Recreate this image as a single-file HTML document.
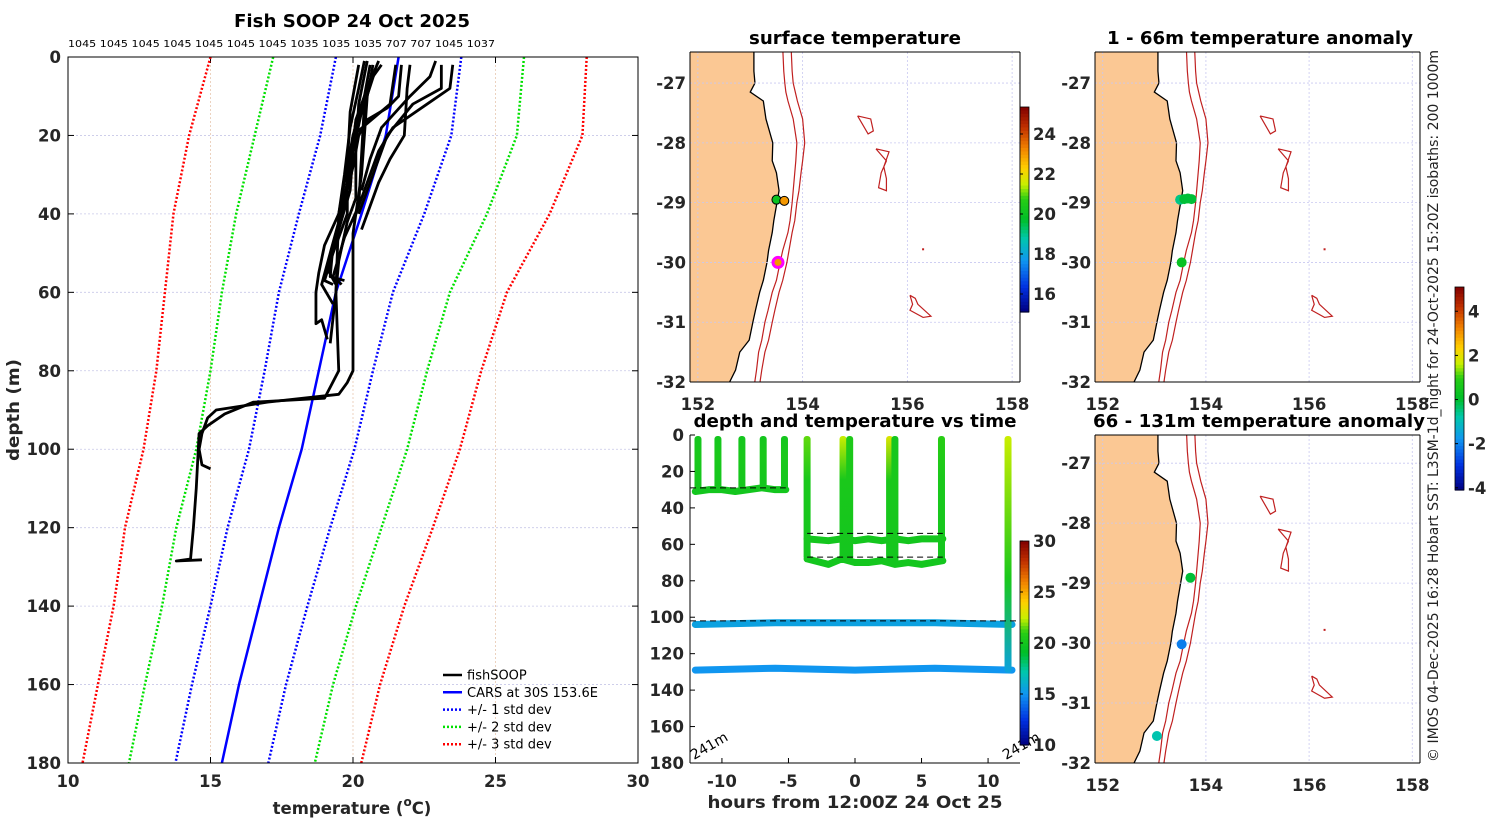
<!DOCTYPE html>
<html><head><meta charset="utf-8">
<style>
html,body{margin:0;padding:0;background:#fff;}
svg{display:block;font-family:"DejaVu Sans","Liberation Sans",sans-serif;}
.tk{font-size:16.5px;font-weight:bold;fill:#262626;}
.ttl{font-size:18px;font-weight:bold;fill:#000;}
</style></head>
<body>
<svg id="fig" width="1500" height="820" viewBox="0 0 1500 820">
<g id="gProfile"></g>
<g id="gSurf"></g>
<g id="gAnom1"></g>
<g id="gAnom2"></g>
<g id="gTime"></g>
<text x="352" y="27" text-anchor="middle" class="ttl" textLength="236" lengthAdjust="spacingAndGlyphs">Fish SOOP 24 Oct 2025</text>
<text x="68" y="47" font-size="10" textLength="427" lengthAdjust="spacingAndGlyphs">1045 1045 1045 1045 1045 1045 1045 1035 1035 1035 707 707 1045 1037</text>
<text transform="translate(19,410) rotate(-90)" text-anchor="middle" class="tk" font-size="18" textLength="102" lengthAdjust="spacingAndGlyphs">depth (m)</text>
<text x="352" y="814" text-anchor="middle" class="tk" font-size="19">temperature (<tspan font-size="12" dy="-8">o</tspan><tspan dy="8">C)</tspan></text>
<text x="855" y="44" text-anchor="middle" class="ttl" textLength="212" lengthAdjust="spacingAndGlyphs">surface temperature</text>
<text x="1260" y="44" text-anchor="middle" class="ttl" textLength="306" lengthAdjust="spacingAndGlyphs">1 - 66m temperature anomaly</text>
<text x="855" y="427" text-anchor="middle" class="ttl" textLength="323" lengthAdjust="spacingAndGlyphs">depth and temperature vs time</text>
<text x="1259" y="427" text-anchor="middle" class="ttl" textLength="332" lengthAdjust="spacingAndGlyphs">66 - 131m temperature anomaly</text>
<text x="855" y="808" text-anchor="middle" class="tk" font-size="18" textLength="295" lengthAdjust="spacingAndGlyphs">hours from 12:00Z 24 Oct 25</text>
<text transform="translate(1438,762) rotate(-90)" font-size="14" textLength="712" lengthAdjust="spacingAndGlyphs" fill="#222">© IMOS 04-Dec-2025 16:28 Hobart SST: L3SM-1d_night for 24-Oct-2025 15:20Z isobaths: 200  1000m</text>
</svg>
<script>
// ---------- data ----------
const cDepths=[0,20,40,60,80,100,120,140,160,180];
const carsMean=[21.6,21.15,20.3,19.4,18.8,18.2,17.4,16.7,16.0,15.4];
const carsSd=[2.2,2.3,2.2,2.0,1.9,1.85,1.8,1.7,1.65,1.63];
const tempTicks=[10,15,20,25,30];
const depthTicks=[0,20,40,60,80,100,120,140,160,180];
const fishProfiles=[
 [[20.4,1],[20.2,8],[19.9,18],[19.7,30],[19.5,40],[19.0,48],[18.8,55],[18.7,60],[18.7,68],[18.9,67],[19.1,72]],
 [[20.6,2],[20.4,10],[20.0,20],[19.8,32],[19.5,42],[19.2,50],[18.9,58],[19.3,63]],
 [[20.9,1],[20.5,8],[20.1,16],[19.9,28],[19.7,38],[19.3,48],[19.2,56],[19.7,57]],
 [[21.0,2],[20.6,6],[20.3,14],[20.0,24],[19.9,34],[19.5,44],[19.1,54],[19.4,58]],
 [[20.5,1],[20.2,12],[20.1,24],[20.1,36],[19.8,42],[19.5,52],[19.4,60],[19.2,73]],
 [[20.8,3],[20.4,12],[20.3,25],[20.2,38],[19.7,46],[19.3,56],[19.6,58]],
 [[20.2,2],[19.9,14],[19.8,28],[19.8,40],[19.3,50],[19.0,57],[19.3,58]],
 [[23.5,2],[23.4,8],[22.6,12],[21.4,18],[20.9,24],[20.5,32],[20.2,38],[20.0,42]],
 [[23.1,2],[23.1,8],[22.1,12],[21.2,20],[20.8,28],[20.4,36],[20.2,40]],
 [[22.9,1],[22.7,5],[22.0,10],[21.0,18],[20.6,26],[20.3,34]],
 [[22.0,2],[21.9,8],[21.8,20],[21.3,26],[20.9,32],[20.5,40],[20.3,44]],
 [[21.7,2],[21.6,10],[21.2,13],[20.5,16],[20.2,20],[20.0,28],[19.8,34]],
 [[20.7,2],[20.5,10],[20.3,30],[20.1,40],[20.0,45],[20.0,80],[19.8,83],[19.5,86],[17,88],[15.2,90],[14.9,92],[14.7,96],[14.6,100],[14.7,104],[15.0,105]],
 [[21.5,2],[21.3,12],[20.0,20],[19.5,40],[19.4,60],[19.5,80],[19.0,87],[16.5,88],[15.5,91],[14.9,94],[14.6,96],[14.5,110],[14.4,120],[14.3,128],[13.8,128.5],[14.7,128.2]]
];
// maps
const lonTicks=[152,154,156,158];
const latTicks=[-27,-28,-29,-30,-31,-32];
const coastLat=[-26.4,-26.8,-27,-27.15,-27.3,-27.6,-28,-28.3,-28.5,-28.8,-29,-29.3,-29.5,-29.8,-30,-30.3,-30.5,-30.8,-31,-31.3,-31.5,-31.8,-32.1];
const coastLon=[153.07,153.07,153.09,153.0,153.25,153.3,153.43,153.42,153.5,153.55,153.51,153.45,153.42,153.35,153.32,153.25,153.18,153.1,153.05,152.98,152.8,152.72,152.55];
const iso200Lon=[153.62,153.64,153.66,153.68,153.72,153.82,153.89,153.87,153.85,153.82,153.8,153.76,153.72,153.62,153.57,153.5,153.42,153.34,153.28,153.22,153.16,153.12,153.07];
const iso1000Lon=[153.78,153.8,153.82,153.86,153.9,154.0,154.04,154.0,153.97,153.93,153.89,153.85,153.8,153.74,153.7,153.62,153.55,153.47,153.42,153.35,153.28,153.22,153.17];
const seamounts=[
 [[155.05,-27.55],[155.3,-27.6],[155.35,-27.8],[155.25,-27.85],[155.05,-27.55]],
 [[155.4,-28.1],[155.65,-28.15],[155.55,-28.4],[155.6,-28.6],[155.6,-28.8],[155.45,-28.75],[155.5,-28.5],[155.6,-28.3],[155.4,-28.1]],
 [[156.05,-30.55],[156.15,-30.6],[156.2,-30.7],[156.45,-30.9],[156.3,-30.92],[156.05,-30.8],[156.1,-30.7],[156.05,-30.55]]
];
const surfLon=[153.5,153.65,153.53];
const surfLat=[-28.95,-28.97,-30.0];
const surfTemp=[20,23,23];
const anom1Lon=[153.5,153.58,153.65,153.72,153.53];
const anom1Lat=[-28.95,-28.94,-28.93,-28.94,-30.0];
const anom1Val=[-0.5,0,0,0,0.3];
const anom2Lon=[153.7,153.53,153.05];
const anom2Lat=[-28.91,-30.02,-31.55];
const anom2Val=[0,-2,-0.8];
// depth-time
const castTimes=[-11.8,-10.3,-8.5,-6.9,-5.3,-3.6,-0.9,-0.4,2.6,3.0,6.5,11.5];
const castBottom=[31,30,31,29,30,68,68,68,70,70,69,130];
const castTopTemp=[20,20,20,20,20,21.5,22.5,20.5,23,20,21,22.5];
const castBottomTemp=[20,20,20,20,20,20,20,20,20,20,20,15.5];
const tow1Time=[-12,-11,-10,-9,-8,-7,-6,-5.2];
const tow1Depth=[31,30,30,31,30,29,30,30];
const tow2Time=[-3.6,-2,-1,0,1,2,3,4,5,6.6];
const tow2Depth=[57,58,57,58,57,58,57,58,57,57];
const tow3Time=[-3.6,-2,-1,0,1,2,3,4,5,6.6];
const tow3Depth=[68,71,68,70,70,69,71,70,71,69];
const tow4Time=[-12,-6,0,6,11.8];
const tow4Depth=[104,103,103,103,104];
const tow5Time=[-12,-6,0,6,11.8];
const tow5Depth=[129,128,129,128,129];
const mldTime=[[-12.4,-5.2],[-3.6,6.6],[-3.6,6.6],[-12.4,12.4]];
const mldDepth=[29,54,67,102];
const hourTicks=[-10,-5,0,5,10];
const timeColorTicks=[10,15,20,25,30];
const surfColorTicks=[16,18,20,22,24];
const anomColorTicks=[-4,-2,0,2,4];

// ---------- helpers ----------
const NS="http://www.w3.org/2000/svg";
function mk(parent,tag,at){const e=document.createElementNS(NS,tag);for(const k in at)e.setAttribute(k,at[k]);parent.appendChild(e);return e;}
const cmStops=[[0,[0,0,128]],[0.12,[0,48,224]],[0.25,[16,150,240]],[0.36,[0,200,170]],[0.45,[0,190,40]],[0.55,[40,205,20]],[0.62,[200,240,0]],[0.7,[255,208,0]],[0.8,[240,128,0]],[0.9,[192,48,0]],[1,[128,0,0]]];
function jet(v){v=Math.max(0,Math.min(1,v));
 for(let i=1;i<cmStops.length;i++){if(v<=cmStops[i][0]){const a=cmStops[i-1],b=cmStops[i];const f=(v-a[0])/(b[0]-a[0]);
  const c=a[1].map((x,k)=>Math.round(x+(b[1][k]-x)*f));return `rgb(${c[0]},${c[1]},${c[2]})`;}}
 return 'rgb(128,0,0)';}
function txt(p,x,y,s,anchor,cls){const t=mk(p,'text',{x:x,y:y,'text-anchor':anchor||'middle',class:cls||'tk'});t.textContent=s;return t;}

// ---------- profile panel ----------
(function(){
 const g=document.getElementById('gProfile');
 const X0=68,X1=638,Y0=57,Y1=763;
 const sx=t=>X0+(t-10)/20*(X1-X0), sy=d=>Y0+d/180*(Y1-Y0);
 tempTicks.forEach(t=>{ if(t>10&&t<30){const l=mk(g,'line',{x1:sx(t),x2:sx(t),y1:Y0,y2:Y1,stroke:'#e8c8b0','stroke-width':0.8,'stroke-dasharray':'2 2'});
  
  }
  const tl=txt(g,sx(t),787,String(t));
  
  
  mk(g,'line',{x1:sx(t),x2:sx(t),y1:Y0,y2:Y0+6,stroke:'#000'});mk(g,'line',{x1:sx(t),x2:sx(t),y1:Y1,y2:Y1-6,stroke:'#000'});});
 depthTicks.forEach(d=>{ if(d>0&&d<180){const l=mk(g,'line',{x1:X0,x2:X1,y1:sy(d),y2:sy(d),stroke:'#c8c8e8','stroke-width':0.8,'stroke-dasharray':'2 2'});
  
  }
  const tl=txt(g,61,sy(d)+6,String(d),'end');
  
  
  mk(g,'line',{x1:X0,x2:X0+6,y1:sy(d),y2:sy(d),stroke:'#000'});mk(g,'line',{x1:X1,x2:X1-6,y1:sy(d),y2:sy(d),stroke:'#000'});});
 const cols={3:'#ff0000',2:'#00e000',1:'#0000ff'};
 [3,2,1].forEach(k=>[-1,1].forEach(s=>{
  const pts=cDepths.map((d,i)=>sx(carsMean[i]+s*k*carsSd[i])+','+sy(d)).join(' ');
  const p=mk(g,'polyline',{points:pts,fill:'none',stroke:cols[k],'stroke-width':2.5,'stroke-dasharray':'2 2'});
  
  
 }));
 const m=mk(g,'polyline',{points:cDepths.map((d,i)=>sx(carsMean[i])+','+sy(d)).join(' '),fill:'none',stroke:'#0000ff','stroke-width':2.5});
 
 
 fishProfiles.forEach(pr=>{
  const p=mk(g,'polyline',{points:pr.map(q=>sx(q[0])+','+sy(q[1])).join(' '),fill:'none',stroke:'#000','stroke-width':2.8,'stroke-linejoin':'round'});
  
  
 });
 const fr=mk(g,'rect',{x:X0,y:Y0,width:X1-X0,height:Y1-Y0,fill:'none',stroke:'#000','stroke-width':1});
 
 
 const lg=mk(g,'g',{});
 
 
 const le=[['fishSOOP','#000',''],['CARS at 30S 153.6E','#0000ff',''],['+/- 1 std dev','#0000ff','2 2'],['+/- 2 std dev','#00e000','2 2'],['+/- 3 std dev','#ff0000','2 2']];
 le.forEach((e,i)=>{const y=675+i*17.3;
  const l=mk(lg,'line',{x1:443,x2:462,y1:y,y2:y,stroke:e[1],'stroke-width':2.5,'stroke-dasharray':e[2]||'none'});
  
  
  const t=mk(lg,'text',{x:467,y:y+4.5,'font-size':13,fill:'#000'});t.textContent=e[0];
  
  });
})();

// ---------- maps ----------
function drawMap(gid,X0,X1,Y0,Y1,latTop,dots){
 const g=document.getElementById(gid);
 const lon0=151.85,lon1=158.15,latBot=-32;
 const sx=l=>X0+(l-lon0)/(lon1-lon0)*(X1-X0), sy=l=>Y0+(latTop-l)/(latTop-latBot)*(Y1-Y0);
 const cp=mk(g,'clipPath',{id:'clip'+gid});mk(cp,'rect',{x:X0,y:Y0,width:X1-X0,height:Y1-Y0});
 const inner=mk(g,'g',{'clip-path':'url(#clip'+gid+')'});
 let pts=coastLat.map((la,i)=>sx(coastLon[i])+','+sy(la));
 pts.push(sx(150)+','+sy(-33));pts.push(sx(150)+','+sy(-26));
 const land=mk(inner,'polygon',{points:pts.join(' '),fill:'#fbc894',stroke:'#000','stroke-width':1.3});
 
 
 lonTicks.forEach(l=>{mk(inner,'line',{x1:sx(l),x2:sx(l),y1:Y0,y2:Y1,stroke:'#c8c8f0','stroke-width':0.8,'stroke-dasharray':'2 2'});});
 latTicks.forEach(l=>{mk(inner,'line',{x1:X0,x2:X1,y1:sy(l),y2:sy(l),stroke:'#c8c8f0','stroke-width':0.8,'stroke-dasharray':'2 2'});});
 [iso200Lon,iso1000Lon].forEach(arr=>{
  const p=mk(inner,'polyline',{points:coastLat.map((la,i)=>sx(arr[i])+','+sy(la)).join(' '),fill:'none',stroke:'#c02020','stroke-width':1.2});
  
  });
 seamounts.forEach(s=>{const p=mk(inner,'polyline',{points:s.map(q=>sx(q[0])+','+sy(q[1])).join(' '),fill:'none',stroke:'#c02020','stroke-width':1.2});
  
  });
 mk(inner,'rect',{x:sx(156.3)-1,y:sy(-29.78)-1,width:2,height:2,fill:'#c02020'});
 dots(inner,sx,sy);
 lonTicks.forEach(l=>{const t=txt(g,sx(l),Y1+28,String(l));
  
  });
 latTicks.forEach(l=>{const t=txt(g,X0-4,sy(l)+6,String(l),'end');
  
  });
 mk(g,'line',{x1:X0,x2:X1,y1:Y1,y2:Y1,stroke:'#000'});
 mk(g,'line',{x1:X0,x2:X0,y1:Y0,y2:Y1,stroke:'#000'});
 mk(g,'line',{x1:X1,x2:X1,y1:Y0,y2:Y1,stroke:'#000'});
 mk(g,'line',{x1:X0,x2:X1,y1:Y0,y2:Y0,stroke:'#000'});
}
drawMap('gSurf',690,1020,52,382,-26.48,(g,sx,sy)=>{
 surfLon.forEach((l,i)=>{const c=mk(g,'circle',{cx:sx(l),cy:sy(surfLat[i]),r:i==2?5:4.5,fill:jet((surfTemp[i]-15.1)/(25.35-15.1)),stroke:i==2?'#ff00ff':'#000','stroke-width':i==2?3:1});
  
  });
});
drawMap('gAnom1',1095,1420,52,382,-26.48,(g,sx,sy)=>{
 anom1Lon.forEach((l,i)=>{const c=mk(g,'circle',{cx:sx(l),cy:sy(anom1Lat[i]),r:5,fill:jet((anom1Val[i]+4)/9.1)});
  
  });
});
drawMap('gAnom2',1095,1420,435,763,-26.53,(g,sx,sy)=>{
 anom2Lon.forEach((l,i)=>{const c=mk(g,'circle',{cx:sx(l),cy:sy(anom2Lat[i]),r:5,fill:jet((anom2Val[i]+4)/9.1)});
  
  });
});
// colorbars
function colorbar(gid,x,y0,y1,vmin,vmax,ticks,name){
 const g=document.getElementById(gid);
 const cb=mk(g,'g',{});
 
 
 const n=60;for(let i=0;i<n;i++){mk(cb,'rect',{x:x,y:y0+(y1-y0)*i/n,width:9,height:(y1-y0)/n+0.6,fill:jet(1-(i+0.5)/n)});}
 mk(cb,'rect',{x:x,y:y0,width:9,height:y1-y0,fill:'none',stroke:'#000','stroke-width':0.8});
 ticks.forEach(t=>{const y=y1-(t-vmin)/(vmax-vmin)*(y1-y0);
  mk(cb,'line',{x1:x,x2:x+3,y1:y,y2:y,stroke:'#000'});
  const tl=txt(cb,x+13,y+6,String(t),'start');
  
  });
}
colorbar('gSurf',1020,107,312,15.1,25.35,surfColorTicks,'surface-colorbar');
colorbar('gAnom1',1455,287,490,-4.1,5.1,anomColorTicks,'anomaly-colorbar');

// ---------- depth-time panel ----------
(function(){
 const g=document.getElementById('gTime');
 const X0=690,X1=1020,Y0=435,Y1=763;
 const sx=h=>X0+(h+12.4)/24.8*(X1-X0), sy=d=>Y0+d/180*(Y1-Y0);
 const tc=t=>jet((t-10)/20);
 const defs=mk(g,'defs',{});
 const cp=mk(g,'clipPath',{id:'clipT'});mk(cp,'rect',{x:X0,y:Y0-6,width:X1-X0+6,height:Y1-Y0+6});
 const inner=mk(g,'g',{'clip-path':'url(#clipT)'});
 function tow(tt,dd,col){const p=mk(inner,'polyline',{points:tt.map((t,i)=>sx(t)+','+sy(dd[i])).join(' '),fill:'none',stroke:col,'stroke-width':7,'stroke-linecap':'round','stroke-linejoin':'round'});
  
  }
 tow(tow1Time,tow1Depth,tc(20));tow(tow2Time,tow2Depth,tc(20));tow(tow3Time,tow3Depth,tc(20));
 tow(tow4Time,tow4Depth,tc(15.5));tow(tow5Time,tow5Depth,tc(15));
 castTimes.forEach((t,i)=>{
  const id='gr'+i;const lg=mk(defs,'linearGradient',{id:id,x1:0,y1:0,x2:0,y2:1,gradientUnits:'objectBoundingBox'});
  mk(lg,'stop',{offset:0,'stop-color':tc(castTopTemp[i])});
  mk(lg,'stop',{offset:i==11?0.6:0.35,'stop-color':tc(20.3)});
  mk(lg,'stop',{offset:1,'stop-color':tc(castBottomTemp[i])});
  const r=mk(inner,'rect',{x:sx(t)-3.5,y:sy(0)+1,width:7,height:sy(castBottom[i])-sy(0),rx:3,fill:'url(#'+id+')'});
  
  
 });
 mldDepth.forEach((d,i)=>{const l=mk(inner,'line',{x1:sx(mldTime[i][0]),x2:sx(mldTime[i][1]),y1:sy(d),y2:sy(d),stroke:'#000','stroke-width':1,'stroke-dasharray':'6 4'});
  
  });
 hourTicks.forEach(h=>{mk(g,'line',{x1:sx(h),x2:sx(h),y1:Y1,y2:Y1-5,stroke:'#000'});
  const t=txt(g,sx(h),787,String(h));
  
  });
 depthTicks.forEach(d=>{mk(g,'line',{x1:X0,x2:X0+5,y1:sy(d),y2:sy(d),stroke:'#000'});
  const t=txt(g,X0-6,sy(d)+6,String(d),'end');
  
  });
 mk(g,'line',{x1:X0,x2:X1,y1:Y1,y2:Y1,stroke:'#000'});
 mk(g,'line',{x1:X0,x2:X0,y1:Y0,y2:Y1,stroke:'#000'});
 const a=mk(g,'text',{transform:`translate(${X0+4},${Y1-3}) rotate(-30)`,'font-size':14});a.textContent='241m';
 
 
 const b=mk(g,'text',{transform:`translate(${X1-14},${Y1-3}) rotate(-30)`,'font-size':14});b.textContent='241m';
 
 
 colorbar('gTime',1020,541,745,10,30,timeColorTicks,'time-colorbar');
})();
</script>
</body></html>
